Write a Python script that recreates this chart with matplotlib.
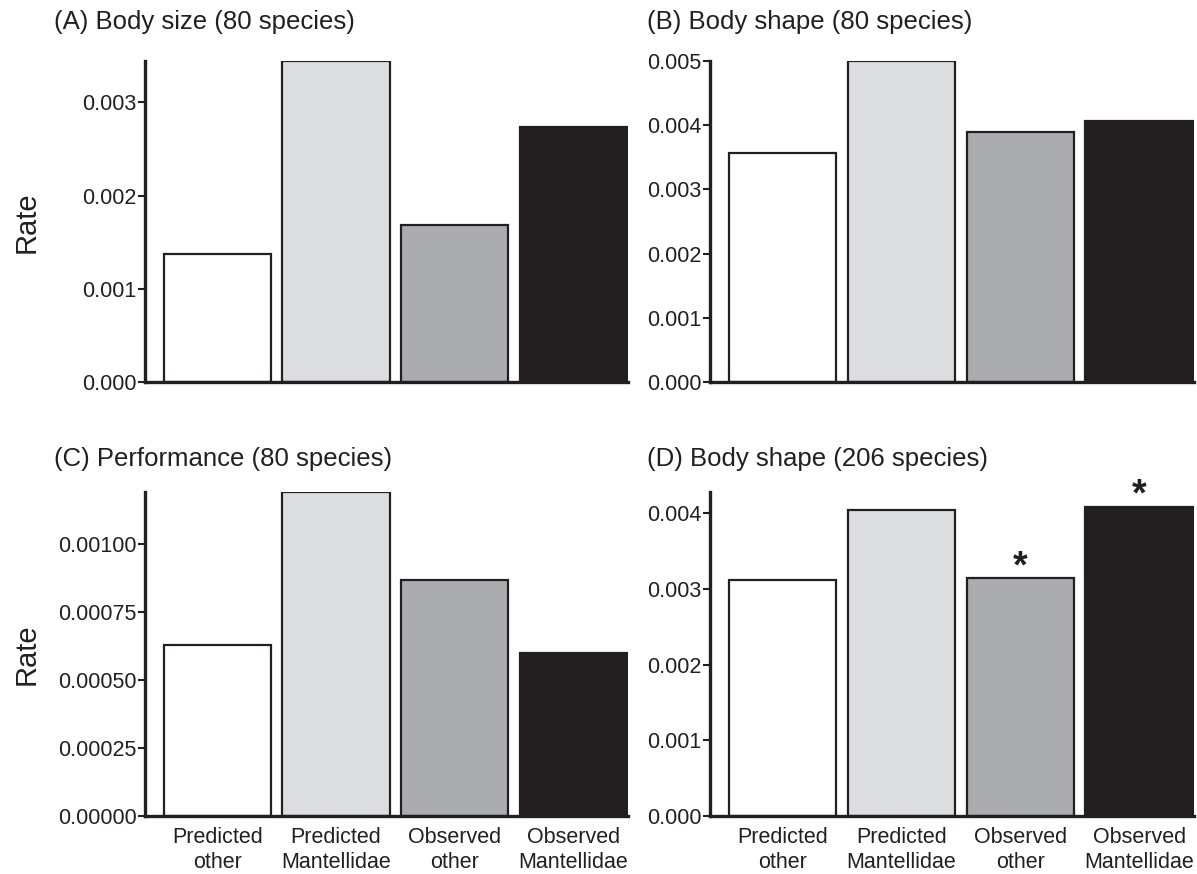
import matplotlib
matplotlib.use("Agg")
import matplotlib.pyplot as plt
from matplotlib.ticker import FormatStrFormatter

plt.rcParams['font.family'] = ['Liberation Sans', 'DejaVu Sans']

# categories and per-panel rates
groups = ["Predicted\nother", "Predicted\nMantellidae", "Observed\nother", "Observed\nMantellidae"]
size_80 = [0.00137, 0.003445, 0.00169, 0.002733]
shape_80 = [0.003568, 0.0050, 0.003894, 0.004064]
perf_80 = [0.000629, 0.001189, 0.000867, 0.000600]
shape_206 = [0.003118, 0.004049, 0.003141, 0.004089]
stars_206 = [False, False, True, True]

titles = ["(A) Body size (80 species)", "(B) Body shape (80 species)",
          "(C) Performance (80 species)", "(D) Body shape (206 species)"]

fills = ["#ffffff", "#dcdddf", "#abacaf", "#231f20"]
edge = "#231f20"

W, H = 1197, 874
fig = plt.figure(figsize=(W / 100, H / 100), dpi=100)


def px_axes(x0, y0, x1, y1):
    # pixel box (top-left origin) -> figure fraction
    return fig.add_axes([x0 / W, 1 - y1 / H, (x1 - x0) / W, (y1 - y0) / H])


def draw_panel(ax, vals, ymax, ticks, fmt, title, title_x, title_y, xlabels, stars=None):
    x = range(len(vals))
    for i, v in enumerate(vals):
        ec = fills[i] if i == 3 else edge
        ax.bar(i, v, width=0.905, color=fills[i], edgecolor=ec, linewidth=1.6, zorder=2)
    ax.set_xlim(-0.61, 3.46)
    ax.set_ylim(0, ymax)
    ax.set_yticks(ticks)
    ax.yaxis.set_major_formatter(FormatStrFormatter(fmt))
    for s in ["top", "right"]:
        ax.spines[s].set_visible(False)
    for s in ["left", "bottom"]:
        ax.spines[s].set_linewidth(2.4)
        ax.spines[s].set_color(edge)
    ax.tick_params(axis="y", length=5, width=1.5, labelsize=15.5, pad=1, colors=edge)
    if xlabels:
        ax.set_xticks(list(x))
        ax.set_xticklabels(groups, fontsize=15.5, linespacing=1.25, color=edge)
        ax.tick_params(axis="x", length=0, pad=8)
    else:
        ax.set_xticks([])
    if stars:
        for i, v in enumerate(vals):
            if stars[i]:
                ax.annotate("*", (i, v), xytext=(0, -5), textcoords="offset points",
                            ha="center", va="bottom", fontsize=27, fontweight="bold",
                            color=edge, annotation_clip=False)
    fig.text(title_x / W, 1 - title_y / H, title, fontsize=18.5, color=edge,
             ha="left", va="center")


axA = px_axes(145, 61, 628, 382)
axB = px_axes(710, 61, 1194, 382)
axC = px_axes(145, 492, 628, 816)
axD = px_axes(710, 492, 1194, 816)

draw_panel(axA, size_80, 0.003445, [0, 0.001, 0.002, 0.003], "%.3f",
           titles[0], 54, 22, False)
draw_panel(axB, shape_80, 0.005, [0, 0.001, 0.002, 0.003, 0.004, 0.005], "%.3f",
           titles[1], 647, 22, False)
draw_panel(axC, perf_80, 0.001189, [0, 0.00025, 0.0005, 0.00075, 0.001], "%.5f",
           titles[2], 54, 459, True)
draw_panel(axD, shape_206, 0.004283, [0, 0.001, 0.002, 0.003, 0.004], "%.3f",
           titles[3], 647, 459, True, stars_206)

fig.text(27 / W, 1 - 222 / H, "Rate", rotation=90, fontsize=21, color=edge,
         ha="center", va="center")
fig.text(27 / W, 1 - 654 / H, "Rate", rotation=90, fontsize=21, color=edge,
         ha="center", va="center")

fig.savefig("out.png", dpi=100)
